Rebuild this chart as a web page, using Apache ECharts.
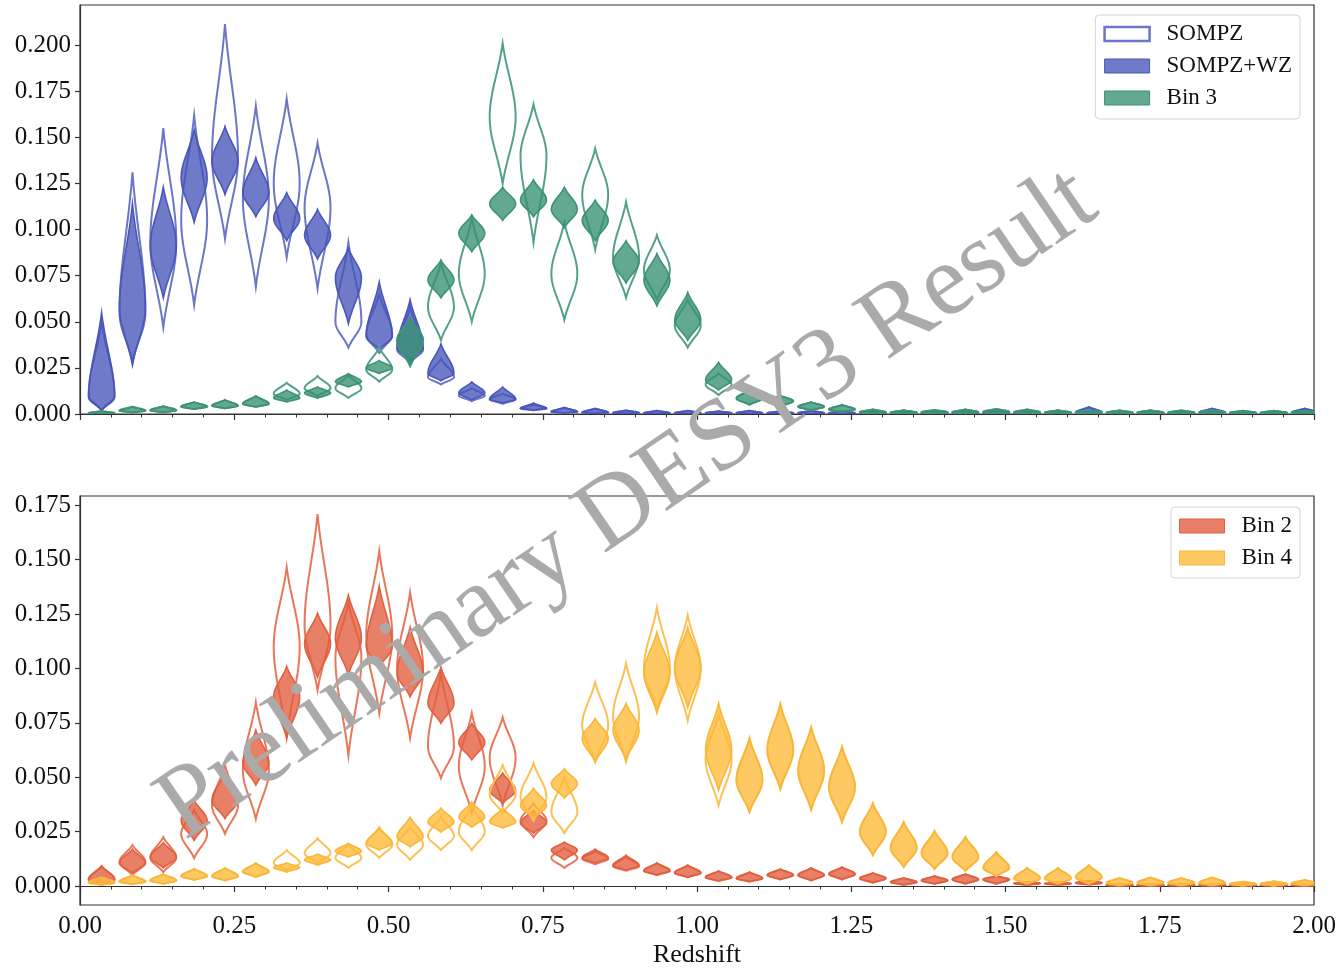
<!DOCTYPE html>
<html>
<head>
<meta charset="utf-8">
<script src="https://cdn.jsdelivr.net/npm/echarts@6/dist/echarts.min.js"></script>
<style>
  html, body { margin: 0; padding: 0; background: #fff; }
  #chart { width: 1339px; height: 971px; }
</style>
</head>
<body>
<div id="chart"></div>
<script>
// Redshift bin centres shared by every violin
const zCenters = [0.035, 0.085, 0.135, 0.185, 0.235, 0.285, 0.335, 0.385, 0.435, 0.485,
  0.535, 0.585, 0.635, 0.685, 0.735, 0.785, 0.835, 0.885, 0.935, 0.985,
  1.035, 1.085, 1.135, 1.185, 1.235, 1.285, 1.335, 1.385, 1.435, 1.485,
  1.535, 1.585, 1.635, 1.685, 1.735, 1.785, 1.835, 1.885, 1.935, 1.985];

// Each violin: [mode, lower end, upper end] of the n(z) samples in that bin
const bin1Sompz = [
  [0.010, 0.002, 0.050], [0.055, 0.028, 0.131], [0.093, 0.047, 0.155], [0.105, 0.059, 0.162],
  [0.139, 0.095, 0.2115], [0.117, 0.069, 0.167], [0.125, 0.085, 0.171], [0.112, 0.068, 0.147],
  [0.050, 0.036, 0.093], [0.043, 0.033, 0.065], [0.035, 0.028, 0.058], [0.020, 0.016, 0.030],
  [0.010, 0.007, 0.014], [0.008, 0.0055, 0.011], [0.003, 0.002, 0.005], [0.0012, 0.0005, 0.0035],
  [0.0008, 0.0003, 0.003], [0.0006, 0.0002, 0.002], [0.0005, 0.0001, 0.0018], [0.0005, 0.0001, 0.0018],
  [0.0005, 0.0001, 0.0015], [0.0005, 0.0001, 0.0018], [0.0005, 0.0001, 0.0015], [0.0005, 0.0001, 0.0018],
  [0.0005, 0.0001, 0.0015], [0.0005, 0.0001, 0.0015], [0.0006, 0.0001, 0.002], [0.0006, 0.0001, 0.002],
  [0.0006, 0.0001, 0.0022], [0.0006, 0.0001, 0.002], [0.0005, 0.0001, 0.0018], [0.0006, 0.0001, 0.002],
  [0.0009, 0.0002, 0.0038], [0.0005, 0.0001, 0.0018], [0.0006, 0.0001, 0.002], [0.0005, 0.0001, 0.0018],
  [0.0008, 0.0002, 0.003], [0.0005, 0.0001, 0.0015], [0.0005, 0.0001, 0.0015], [0.0008, 0.0002, 0.003]
];
const bin1Wz = [
  [0.009, 0.002, 0.055], [0.058, 0.0265, 0.114], [0.091, 0.063, 0.123], [0.128, 0.104, 0.154],
  [0.137, 0.119, 0.156], [0.120, 0.107, 0.139], [0.106, 0.094, 0.120], [0.097, 0.084, 0.111],
  [0.074, 0.049, 0.090], [0.042, 0.035, 0.0716], [0.036, 0.029, 0.062], [0.022, 0.018, 0.038],
  [0.0114, 0.0076, 0.0174], [0.008, 0.006, 0.0147], [0.003, 0.0022, 0.006], [0.0012, 0.0005, 0.0035],
  [0.0008, 0.0003, 0.003], [0.0006, 0.0002, 0.002], [0.0005, 0.0001, 0.0018], [0.0005, 0.0001, 0.0018],
  [0.0005, 0.0001, 0.0015], [0.0005, 0.0001, 0.0018], [0.0005, 0.0001, 0.0015], [0.0005, 0.0001, 0.0018],
  [0.0005, 0.0001, 0.0015], [0.0005, 0.0001, 0.0015], [0.0006, 0.0001, 0.002], [0.0006, 0.0001, 0.002],
  [0.0006, 0.0001, 0.0022], [0.0006, 0.0001, 0.002], [0.0005, 0.0001, 0.0018], [0.0006, 0.0001, 0.002],
  [0.0009, 0.0002, 0.0038], [0.0005, 0.0001, 0.0018], [0.0006, 0.0001, 0.002], [0.0005, 0.0001, 0.0018],
  [0.0008, 0.0002, 0.003], [0.0005, 0.0001, 0.0015], [0.0005, 0.0001, 0.0015], [0.0008, 0.0002, 0.003]
];
const bin3Sompz = [
  [0.0005, 0.0001, 0.0016], [0.0018, 0.0008, 0.004], [0.002, 0.0008, 0.0043], [0.004, 0.0026, 0.0065],
  [0.0045, 0.003, 0.0076], [0.0055, 0.0038, 0.0098], [0.011, 0.0076, 0.017], [0.014, 0.0098, 0.0206],
  [0.014, 0.0087, 0.021], [0.024, 0.0175, 0.036], [0.040, 0.026, 0.052], [0.058, 0.040, 0.082],
  [0.076, 0.050, 0.106], [0.161, 0.125, 0.201], [0.140, 0.093, 0.168], [0.076, 0.051, 0.104],
  [0.119, 0.089, 0.144], [0.085, 0.063, 0.115], [0.078, 0.062, 0.097], [0.048, 0.036, 0.062],
  [0.016, 0.0103, 0.022], [0.0085, 0.005, 0.013], [0.007, 0.004, 0.010], [0.004, 0.002, 0.0065],
  [0.0025, 0.001, 0.005], [0.001, 0.0003, 0.0025], [0.0008, 0.0002, 0.002], [0.001, 0.0003, 0.0022],
  [0.001, 0.0003, 0.0025], [0.0012, 0.0003, 0.0028], [0.001, 0.0003, 0.0025], [0.0008, 0.0002, 0.002],
  [0.0008, 0.0002, 0.002], [0.0008, 0.0002, 0.002], [0.0008, 0.0002, 0.002], [0.0008, 0.0002, 0.002],
  [0.0008, 0.0002, 0.002], [0.0007, 0.0002, 0.0018], [0.0007, 0.0002, 0.0018], [0.0007, 0.0002, 0.0018]
];
const bin3Wz = [
  [0.0005, 0.0001, 0.0016], [0.0018, 0.0008, 0.004], [0.002, 0.0008, 0.0043], [0.004, 0.0026, 0.0065],
  [0.0045, 0.003, 0.0076], [0.0055, 0.0038, 0.0098], [0.0087, 0.0065, 0.013], [0.0114, 0.0085, 0.0147],
  [0.0175, 0.0147, 0.022], [0.025, 0.022, 0.029], [0.040, 0.026, 0.052], [0.0727, 0.063, 0.0835],
  [0.098, 0.088, 0.108], [0.114, 0.105, 0.123], [0.116, 0.107, 0.127], [0.111, 0.101, 0.123],
  [0.105, 0.094, 0.116], [0.0825, 0.071, 0.094], [0.0727, 0.0586, 0.087], [0.051, 0.040, 0.066],
  [0.0184, 0.013, 0.028], [0.0085, 0.005, 0.013], [0.007, 0.004, 0.010], [0.004, 0.002, 0.0065],
  [0.0025, 0.001, 0.005], [0.001, 0.0003, 0.0025], [0.0008, 0.0002, 0.002], [0.001, 0.0003, 0.0022],
  [0.001, 0.0003, 0.0025], [0.0012, 0.0003, 0.0028], [0.001, 0.0003, 0.0025], [0.0008, 0.0002, 0.002],
  [0.0008, 0.0002, 0.002], [0.0008, 0.0002, 0.002], [0.0008, 0.0002, 0.002], [0.0008, 0.0002, 0.002],
  [0.0008, 0.0002, 0.002], [0.0007, 0.0002, 0.0018], [0.0007, 0.0002, 0.0018], [0.0007, 0.0002, 0.0018]
];
const bin2Sompz = [
  [0.003, 0.0005, 0.0092], [0.011, 0.005, 0.0188], [0.013, 0.0064, 0.0225], [0.024, 0.0128, 0.035],
  [0.037, 0.024, 0.0556], [0.053, 0.0308, 0.0845], [0.110, 0.0685, 0.1465], [0.120, 0.090, 0.171],
  [0.105, 0.060, 0.130], [0.115, 0.0795, 0.154], [0.100, 0.068, 0.135], [0.064, 0.0496, 0.098],
  [0.055, 0.0335, 0.0795], [0.059, 0.037, 0.0776], [0.030, 0.0225, 0.038], [0.013, 0.0083, 0.0175],
  [0.0125, 0.010, 0.016], [0.009, 0.007, 0.0135], [0.007, 0.005, 0.0106], [0.006, 0.004, 0.0096],
  [0.004, 0.0023, 0.0069], [0.0035, 0.002, 0.0064], [0.005, 0.003, 0.0078], [0.005, 0.0025, 0.0083],
  [0.0055, 0.003, 0.0087], [0.0035, 0.0015, 0.006], [0.0018, 0.0005, 0.0037], [0.0025, 0.001, 0.0046],
  [0.003, 0.001, 0.0055], [0.003, 0.001, 0.0046], [0.0012, 0.0005, 0.0018], [0.0011, 0.0005, 0.0017],
  [0.0014, 0.0006, 0.0025], [0.0004, 0.0001, 0.0008], [0.0004, 0.0001, 0.0008], [0.0004, 0.0001, 0.0008],
  [0.0004, 0.0001, 0.0008], [0.0004, 0.0001, 0.0008], [0.0004, 0.0001, 0.0008], [0.0004, 0.0001, 0.0008]
];
const bin2Wz = [
  [0.003, 0.0005, 0.0092], [0.0105, 0.006, 0.017], [0.0133, 0.0083, 0.020], [0.030, 0.021, 0.0395],
  [0.0395, 0.031, 0.052], [0.0565, 0.0464, 0.0717], [0.087, 0.068, 0.101], [0.1115, 0.096, 0.1254],
  [0.114, 0.097, 0.1337], [0.110, 0.1006, 0.138], [0.098, 0.087, 0.119], [0.084, 0.0748, 0.1006],
  [0.066, 0.058, 0.0748], [0.044, 0.038, 0.052], [0.029, 0.0243, 0.035], [0.0165, 0.012, 0.0202],
  [0.013, 0.0106, 0.017], [0.0095, 0.0073, 0.0142], [0.007, 0.005, 0.0106], [0.006, 0.004, 0.0096],
  [0.004, 0.0023, 0.0069], [0.0035, 0.002, 0.0064], [0.005, 0.003, 0.0078], [0.005, 0.0025, 0.0083],
  [0.0055, 0.003, 0.0087], [0.0035, 0.0015, 0.006], [0.0018, 0.0005, 0.0037], [0.0025, 0.001, 0.0046],
  [0.003, 0.001, 0.0055], [0.003, 0.001, 0.0046], [0.0012, 0.0005, 0.0018], [0.0011, 0.0005, 0.0017],
  [0.0014, 0.0006, 0.0025], [0.0004, 0.0001, 0.0008], [0.0004, 0.0001, 0.0008], [0.0004, 0.0001, 0.0008],
  [0.0004, 0.0001, 0.0008], [0.0004, 0.0001, 0.0008], [0.0004, 0.0001, 0.0008], [0.0004, 0.0001, 0.0008]
];
const bin4Sompz = [
  [0.0015, 0.0005, 0.004], [0.002, 0.0008, 0.005], [0.0025, 0.001, 0.0055], [0.0045, 0.0028, 0.008],
  [0.0045, 0.0025, 0.0083], [0.0065, 0.0045, 0.0105], [0.0106, 0.0073, 0.0165], [0.015, 0.0106, 0.022],
  [0.013, 0.0083, 0.019], [0.019, 0.0129, 0.027], [0.019, 0.012, 0.027], [0.023, 0.0165, 0.0317],
  [0.025, 0.0165, 0.037], [0.042, 0.0335, 0.0556], [0.041, 0.030, 0.0565], [0.034, 0.0243, 0.050],
  [0.074, 0.057, 0.0937], [0.078, 0.057, 0.1024], [0.100, 0.081, 0.128], [0.100, 0.076, 0.1245],
  [0.058, 0.037, 0.079], [0.0487, 0.034, 0.068], [0.0625, 0.0446, 0.0836], [0.053, 0.035, 0.073],
  [0.0455, 0.0294, 0.064], [0.0248, 0.0142, 0.038], [0.0175, 0.0087, 0.0294], [0.015, 0.0078, 0.0253],
  [0.0133, 0.0069, 0.0225], [0.0083, 0.0046, 0.0156], [0.0035, 0.001, 0.0083], [0.0035, 0.001, 0.0083],
  [0.004, 0.001, 0.0096], [0.0015, 0.0003, 0.0037], [0.0015, 0.0003, 0.004], [0.0015, 0.0003, 0.0037],
  [0.0015, 0.0003, 0.004], [0.001, 0.0002, 0.002], [0.001, 0.0002, 0.0022], [0.0012, 0.0003, 0.0028]
];
const bin4Wz = [
  [0.0015, 0.0005, 0.004], [0.002, 0.0008, 0.005], [0.0025, 0.001, 0.0055], [0.0045, 0.0028, 0.0078],
  [0.0045, 0.0025, 0.0083], [0.0065, 0.004, 0.0106], [0.0085, 0.0064, 0.0106], [0.012, 0.0096, 0.0147],
  [0.016, 0.0133, 0.0197], [0.0197, 0.0165, 0.0266], [0.0225, 0.018, 0.0317], [0.0294, 0.0248, 0.0358],
  [0.0317, 0.027, 0.0386], [0.0294, 0.0266, 0.0358], [0.037, 0.031, 0.045], [0.047, 0.0404, 0.054],
  [0.068, 0.057, 0.077], [0.0717, 0.058, 0.084], [0.098, 0.0795, 0.1167], [0.1006, 0.082, 0.119],
  [0.0625, 0.044, 0.084], [0.0487, 0.034, 0.068], [0.0625, 0.0446, 0.0836], [0.053, 0.035, 0.073],
  [0.0455, 0.0294, 0.064], [0.0248, 0.0142, 0.038], [0.0175, 0.0087, 0.0294], [0.015, 0.0078, 0.0253],
  [0.0133, 0.0069, 0.0225], [0.0083, 0.0046, 0.0156], [0.0035, 0.001, 0.0083], [0.0035, 0.001, 0.0083],
  [0.004, 0.001, 0.0096], [0.0015, 0.0003, 0.0037], [0.0015, 0.0003, 0.004], [0.0015, 0.0003, 0.0037],
  [0.0015, 0.0003, 0.004], [0.001, 0.0002, 0.002], [0.001, 0.0002, 0.0022], [0.0012, 0.0003, 0.0028]
];

// Axis tick values
const xTicks = [0, 0.25, 0.5, 0.75, 1.0, 1.25, 1.5, 1.75, 2.0];
const yTicksTop = [0, 0.025, 0.05, 0.075, 0.1, 0.125, 0.15, 0.175, 0.2];
const yTicksBottom = [0, 0.025, 0.05, 0.075, 0.1, 0.125, 0.15, 0.175];

const FONT = '"Liberation Serif", "DejaVu Serif", serif';
const VIOLIN_WIDTH = 0.042;   // full violin width in redshift units
const SHAPE_K = 1.6;          // sharpness of the violin outline
const HALF_STEPS = 22;

const COLORS = {
  bin1: { fill: 'rgba(70, 85, 185, 0.78)', edge: '#4a57b8', line: '#6b76c8' },
  bin3: { fill: 'rgba(55, 145, 115, 0.78)', edge: '#3d9274', line: '#55a188' },
  bin2: { fill: 'rgba(226, 92, 61, 0.78)', edge: '#e0603f', line: '#e8775a' },
  bin4: { fill: 'rgba(254, 186, 55, 0.78)', edge: '#f8b73a', line: '#fdc052' }
};

function profile(t) {
  const e = Math.exp(-SHAPE_K);
  return (Math.exp(-SHAPE_K * t * t) - e) / (1 - e);
}

function makeRenderer(style) {
  return function (params, api) {
    const x = api.value(0), mode = api.value(1), lo = api.value(2), hi = api.value(3);
    const halfPx = api.size([VIOLIN_WIDTH, 0])[0] / 2;
    const cx = api.coord([x, mode])[0];
    const side = [];
    // lower half: from the lower end up to the mode
    if (mode > lo) {
      for (let i = 0; i <= HALF_STEPS; i++) {
        const t = 1 - i / HALF_STEPS;
        const v = mode - t * (mode - lo);
        side.push([profile(t), api.coord([x, v])[1]]);
      }
    } else {
      side.push([1, api.coord([x, mode])[1]]);
    }
    // upper half: from the mode up to the upper end
    for (let i = 1; i <= HALF_STEPS; i++) {
      const t = i / HALF_STEPS;
      const v = mode + t * (hi - mode);
      side.push([profile(t), api.coord([x, v])[1]]);
    }
    const pts = [];
    side.forEach(p => pts.push([cx + p[0] * halfPx, p[1]]));
    for (let i = side.length - 1; i >= 0; i--) pts.push([cx - side[i][0] * halfPx, side[i][1]]);
    return {
      type: 'polygon',
      shape: { points: pts },
      style: style
    };
  };
}

function violinSeries(name, values, gridIdx, filled, c) {
  const style = filled
    ? { fill: c.fill, stroke: c.edge, lineWidth: 1.6 }
    : { fill: 'none', stroke: c.line, lineWidth: 2 };
  return {
    type: 'custom',
    name: name,
    xAxisIndex: gridIdx,
    yAxisIndex: gridIdx,
    clip: true,
    silent: true,
    itemStyle: filled ? { color: c.fill, borderColor: c.edge } : { color: '#fff', borderColor: c.line },
    encode: { x: 0, y: [1, 2, 3] },
    data: zCenters.map((z, i) => [z, values[i][0], values[i][1], values[i][2]]),
    renderItem: makeRenderer(style)
  };
}

const axisLabelStyle = { fontFamily: FONT, fontSize: 25, color: '#111' };

function xAxis(gridIdx, withLabels) {
  return {
    type: 'value', gridIndex: gridIdx, min: 0, max: 2, interval: 0.25,
    axisLine: { show: true, lineStyle: { color: '#333', width: 1.2 } },
    axisTick: { show: true, length: 6, inside: false, customValues: xTicks, lineStyle: { color: '#333', width: 1.2 } },
    minorTick: { show: true, splitNumber: 5, length: 3.5, lineStyle: { color: '#333', width: 1 } },
    splitLine: { show: false },
    axisLabel: withLabels
      ? Object.assign({ show: true, margin: 9, customValues: xTicks, formatter: v => v.toFixed(2) }, axisLabelStyle)
      : { show: false },
    name: withLabels ? 'Redshift' : '',
    nameLocation: 'middle',
    nameGap: 37,
    nameTextStyle: { fontFamily: FONT, fontSize: 26, color: '#111' }
  };
}

function yAxis(gridIdx, min, max, ticks) {
  return {
    type: 'value', gridIndex: gridIdx, min: min, max: max, interval: 0.025,
    axisLine: { show: true, lineStyle: { color: '#333', width: 1.2 } },
    axisTick: { show: true, length: 5, customValues: ticks, lineStyle: { color: '#333', width: 1.2 } },
    splitLine: { show: false },
    axisLabel: Object.assign({ show: true, margin: 9, customValues: ticks, formatter: v => v.toFixed(3) }, axisLabelStyle)
  };
}

const legendCommon = {
  orient: 'vertical',
  right: 39,
  itemWidth: 45,
  itemHeight: 14,
  itemGap: 8,
  icon: 'rect',
  padding: [7, 8, 9, 8],
  borderColor: '#d4d4d4',
  borderWidth: 1,
  borderRadius: 4,
  backgroundColor: 'rgba(255,255,255,0.85)',
  selectedMode: false,
  textStyle: { fontFamily: FONT, fontSize: 23, color: '#111', lineHeight: 24, padding: [0, 0, 0, 12] }
};

const gridCommon = {
  left: 80, width: 1234, height: 409, show: true,
  borderColor: '#333', borderWidth: 1.2, backgroundColor: 'transparent',
  containLabel: false, outerBoundsMode: 'none'
};

const chart = echarts.init(document.getElementById('chart'), null, { renderer: 'canvas' });
chart.setOption({
  animation: false,
  backgroundColor: '#fff',
  grid: [
    Object.assign({}, gridCommon, { top: 5 }),
    Object.assign({}, gridCommon, { top: 496 })
  ],
  xAxis: [xAxis(0, false), xAxis(1, true)],
  yAxis: [yAxis(0, 0, 0.2218, yTicksTop), yAxis(1, -0.00873, 0.1793, yTicksBottom)],
  legend: [
    Object.assign({}, legendCommon, {
      top: 15,
      data: [
        { name: 'SOMPZ', itemStyle: { color: '#ffffff', borderColor: COLORS.bin1.line, borderWidth: 2.5 } },
        { name: 'SOMPZ+WZ', itemStyle: { color: COLORS.bin1.fill, borderColor: COLORS.bin1.edge, borderWidth: 1 } },
        { name: 'Bin 3', itemStyle: { color: COLORS.bin3.fill, borderColor: COLORS.bin3.edge, borderWidth: 1 } }
      ]
    }),
    Object.assign({}, legendCommon, {
      top: 507,
      padding: [7, 8, 8, 8],
      data: [
        { name: 'Bin 2', itemStyle: { color: COLORS.bin2.fill, borderColor: COLORS.bin2.edge, borderWidth: 1 } },
        { name: 'Bin 4', itemStyle: { color: COLORS.bin4.fill, borderColor: COLORS.bin4.edge, borderWidth: 1 } }
      ]
    })
  ],
  series: [
    violinSeries('SOMPZ', bin1Sompz, 0, false, COLORS.bin1),
    violinSeries('SOMPZ+WZ', bin1Wz, 0, true, COLORS.bin1),
    violinSeries('Bin 3 SOMPZ', bin3Sompz, 0, false, COLORS.bin3),
    violinSeries('Bin 3', bin3Wz, 0, true, COLORS.bin3),
    violinSeries('Bin 2 SOMPZ', bin2Sompz, 1, false, COLORS.bin2),
    violinSeries('Bin 2', bin2Wz, 1, true, COLORS.bin2),
    violinSeries('Bin 4 SOMPZ', bin4Sompz, 1, false, COLORS.bin4),
    violinSeries('Bin 4', bin4Wz, 1, true, COLORS.bin4)
  ],
  graphic: [{
    type: 'text',
    x: 628,
    y: 505,
    rotation: 0.6,
    z: 100,
    silent: true,
    style: {
      text: 'Preliminary DESY3 Result',
      fontFamily: FONT,
      fontSize: 102,
      fill: '#aaaaaa',
      align: 'center',
      verticalAlign: 'middle'
    }
  }]
});
</script>
</body>
</html>
